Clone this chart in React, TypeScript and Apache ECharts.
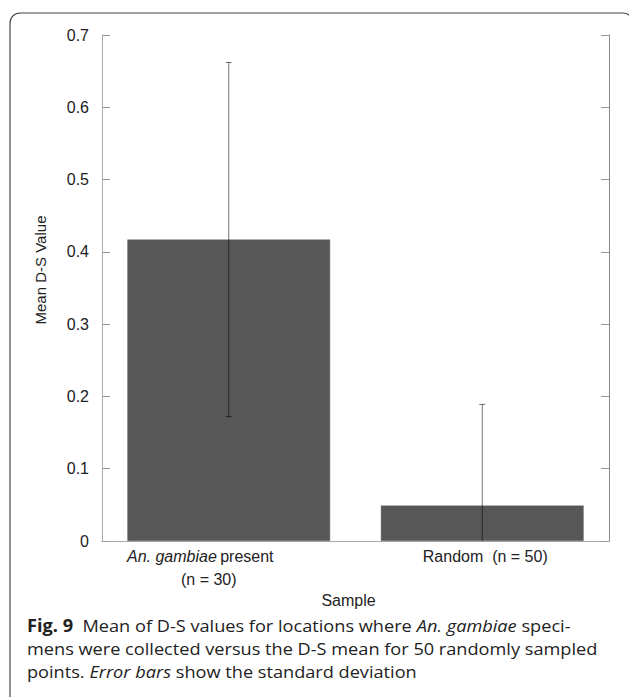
import React, { useEffect, useRef } from "react";
import * as echarts from "echarts";

const categories = ["An. gambiae present (n = 30)", "Random  (n = 50)"];
const means = [0.417, 0.049];
const sds = [0.245, 0.14];
const yTicks = [0, 0.1, 0.2, 0.3, 0.4, 0.5, 0.6, 0.7];
const xAxisTitle = "Sample";
const yAxisTitle = "Mean D-S Value";
const captionLines = [
  "{b|Fig. 9}  Mean of D-S values for locations where {i|An. gambiae} speci-",
  "mens were collected versus the D-S mean for 50 randomly sampled",
  "points. {i|Error bars} show the standard deviation",
];

const SANS = '"Liberation Sans", Arial, sans-serif';
const CAP_FONT = '"Open Sans", "Noto Sans", sans-serif';

export default function App() {
  const ref = useRef<HTMLDivElement>(null);
  useEffect(() => {
    if (!ref.current) return;
    const chart = echarts.init(ref.current, undefined, { renderer: "svg" });

    let scaleX = 1;
    try {
      const c = document.createElement("canvas").getContext("2d");
      if (c) {
        c.font = '17px "Open Sans"';
        const w = c.measureText("mens were collected versus the D-S mean for 50 randomly sampled").width;
        if (w > 0) scaleX = Math.min(1.15, Math.max(0.85, 571 / w));
      }
    } catch (e) {}

    const capY = [625, 648, 671];

    const labelFormatter = (v: string) => {
      if (v === categories[0]) return "{i|An. gambiae} {r|present}{s| }\n{r|(n = 30)}";
      return "{r|" + v + "}";
    };

    chart.setOption({
      animation: false,
      grid: { left: 102, right: 20, top: 35, bottom: 156, containLabel: false },
      xAxis: [
        {
          type: "category",
          data: [
            { value: categories[0], textStyle: { padding: [0, 40, 0, 0] } },
            { value: categories[1], textStyle: { padding: [0, 0, 0, 6] } },
          ],
          position: "bottom",
          axisLine: { lineStyle: { color: "#999", width: 1 } },
          axisTick: { inside: true, length: 8, lineStyle: { color: "#999" } },
          axisLabel: {
            margin: 4,
            formatter: labelFormatter,
            rich: {
              i: { fontStyle: "italic", fontSize: 16, fontFamily: SANS, color: "#222", lineHeight: 23 },
              r: { fontSize: 16, fontFamily: SANS, color: "#222", lineHeight: 23 },
              s: { width: 17, fontSize: 16, lineHeight: 23 },
            },
          },
          name: xAxisTitle,
          nameLocation: "middle",
          nameGap: 49,
          nameTextStyle: { fontSize: 16, fontFamily: SANS, color: "#222", padding: [0, 14, 0, 0] },
          splitLine: { show: false },
        },
        {
          type: "category",
          data: categories,
          position: "top",
          axisLine: { lineStyle: { color: "#aaa", width: 1 } },
          axisTick: { inside: true, length: 8, lineStyle: { color: "#999" } },
          axisLabel: { show: false },
          splitLine: { show: false },
        },
      ],
      yAxis: [
        {
          type: "value",
          min: 0,
          max: 0.7,
          interval: 0.1,
          position: "left",
          axisLine: { show: true, lineStyle: { color: "#aaa", width: 1 } },
          axisTick: { show: true, inside: true, length: 8, lineStyle: { color: "#999" } },
          axisLabel: {
            margin: 13,
            fontSize: 16,
            fontFamily: SANS,
            color: "#222",
            formatter: (v: number) => {
              const t = yTicks.find((x) => Math.abs(x - v) < 1e-9);
              return t === 0 ? "0" : (t ?? v).toFixed(1);
            },
          },
          splitLine: { show: false },
          name: yAxisTitle,
          nameLocation: "middle",
          nameGap: 54,
          nameRotate: 90,
          nameTextStyle: { fontSize: 15, fontFamily: SANS, color: "#222", padding: [0, 0, 0, 36] },
        },
        {
          type: "value",
          min: 0,
          max: 0.7,
          interval: 0.1,
          position: "right",
          axisLine: { show: true, lineStyle: { color: "#888", width: 1 } },
          axisTick: { show: true, inside: true, length: 8, lineStyle: { color: "#999" } },
          axisLabel: { show: false },
          splitLine: { show: false },
        },
      ],
      series: [
        {
          type: "bar",
          data: means,
          barWidth: "80%",
          itemStyle: { color: "#575757", borderColor: "#6a6a6a", borderWidth: 0.5 },
          xAxisIndex: 0,
          yAxisIndex: 0,
          z: 2,
        },
        {
          type: "custom",
          xAxisIndex: 0,
          yAxisIndex: 0,
          z: 5,
          data: means.map((m, i) => [i, m, sds[i]]),
          renderItem: (params: any, api: any) => {
            const i = api.value(0);
            const m = api.value(1);
            const s = api.value(2);
            const lowV = m - s;
            const lo = api.coord([i, Math.max(0, lowV)]);
            const hi = api.coord([i, m + s]);
            const stroke = { stroke: "rgba(0,0,0,0.55)", lineWidth: 1 };
            const children: any[] = [
              { type: "line", shape: { x1: hi[0], y1: hi[1], x2: lo[0], y2: lo[1] }, style: stroke },
              { type: "line", shape: { x1: hi[0] - 3, y1: hi[1], x2: hi[0] + 3, y2: hi[1] }, style: stroke },
            ];
            if (lowV >= 0) {
              children.push({ type: "line", shape: { x1: lo[0] - 3, y1: lo[1], x2: lo[0] + 3, y2: lo[1] }, style: stroke });
            }
            return { type: "group", children };
          },
        },
      ],
      graphic: [
        {
          type: "rect",
          shape: { x: 10, y: 13, width: 623, height: 740, r: 10 },
          style: { fill: "none", stroke: "#444", lineWidth: 1.2 },
          silent: true,
          z: 0,
        },
        ...captionLines.map((t, k) => ({
          type: "text",
          x: 27,
          y: capY[k],
          scaleX,
          style: {
            text: t,
            fontFamily: CAP_FONT,
            fontSize: 17,
            fill: "#222",
            verticalAlign: "middle",
            align: "left",
            rich: {
              b: { fontWeight: "bold", fontFamily: CAP_FONT, fontSize: 17, fill: "#222" },
              i: { fontStyle: "italic", fontFamily: CAP_FONT, fontSize: 17, fill: "#222" },
            },
          },
          z: 10,
        })),
      ],
    });
    return () => chart.dispose();
  }, []);
  return (
    <div
      ref={ref}
      style={{ position: "fixed", left: 0, top: 0, width: 629, height: 697, background: "#fff" }}
    />
  );
}
